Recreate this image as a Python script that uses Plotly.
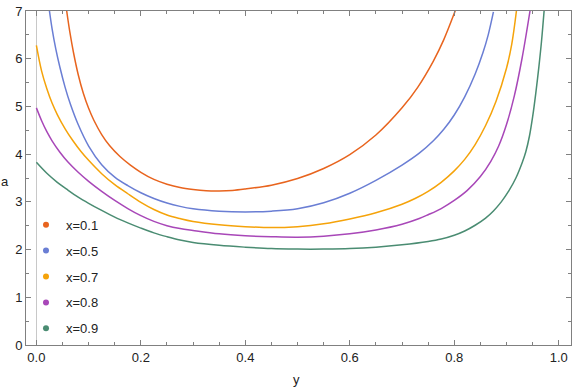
import plotly.graph_objects as go

# ---- data (horizontal axis "y", vertical axis "a") ----
labels = ["x=0.1", "x=0.5", "x=0.7", "x=0.8", "x=0.9"]
colors = ["#E8641E", "#6A7ED4", "#F5A30A", "#A847B8", "#4A8C72"]

y_01 = [0.058, 0.064, 0.071, 0.080, 0.090, 0.100, 0.110, 0.125, 0.140, 0.160,
        0.180, 0.200, 0.225, 0.250, 0.275, 0.300, 0.325, 0.350, 0.375, 0.400,
        0.450, 0.500, 0.550, 0.600, 0.650, 0.700, 0.730, 0.760, 0.780, 0.800,
        0.802]
a_01 = [7.00, 6.56, 6.13, 5.67, 5.27, 4.96, 4.71, 4.41, 4.18, 3.95,
        3.77, 3.62, 3.47, 3.37, 3.30, 3.26, 3.235, 3.23, 3.24, 3.27,
        3.35, 3.49, 3.70, 3.99, 4.40, 4.97, 5.40, 5.95, 6.40, 6.95,
        7.01]

y_05 = [0.025, 0.030, 0.037, 0.045, 0.055, 0.065, 0.080, 0.100, 0.125, 0.150,
        0.175, 0.200, 0.225, 0.250, 0.275, 0.300, 0.350, 0.400, 0.450, 0.500,
        0.550, 0.600, 0.650, 0.700, 0.733, 0.760, 0.780, 0.800, 0.820, 0.840,
        0.855, 0.865, 0.875]
a_05 = [7.00, 6.63, 6.21, 5.82, 5.40, 5.05, 4.62, 4.17, 3.78, 3.52,
        3.34, 3.19, 3.07, 2.975, 2.905, 2.855, 2.805, 2.79, 2.805, 2.855,
        2.98, 3.18, 3.45, 3.77, 4.02, 4.28, 4.52, 4.82, 5.20, 5.68,
        6.13, 6.50, 6.98]

y_07 = [0.000, 0.010, 0.020, 0.030, 0.040, 0.055, 0.070, 0.085, 0.100, 0.125,
        0.150, 0.175, 0.200, 0.225, 0.250, 0.275, 0.300, 0.350, 0.400, 0.450,
        0.500, 0.550, 0.600, 0.650, 0.700, 0.725, 0.750, 0.775, 0.800, 0.820,
        0.840, 0.860, 0.880, 0.900, 0.910, 0.919]
a_07 = [6.28, 5.74, 5.37, 5.07, 4.83, 4.53, 4.28, 4.06, 3.87, 3.59,
        3.36, 3.17, 2.99, 2.84, 2.725, 2.65, 2.59, 2.52, 2.48, 2.46,
        2.48, 2.54, 2.64, 2.77, 2.95, 3.07, 3.22, 3.41, 3.65, 3.89,
        4.20, 4.60, 5.11, 5.80, 6.30, 7.00]

y_08 = [0.000, 0.010, 0.020, 0.030, 0.045, 0.060, 0.080, 0.100, 0.125, 0.150,
        0.175, 0.200, 0.225, 0.250, 0.275, 0.300, 0.350, 0.400, 0.450, 0.500,
        0.550, 0.600, 0.650, 0.700, 0.733, 0.750, 0.775, 0.800, 0.825, 0.850,
        0.870, 0.885, 0.900, 0.915, 0.930, 0.945]
a_08 = [4.97, 4.70, 4.47, 4.28, 4.04, 3.84, 3.62, 3.43, 3.22, 3.03,
        2.86, 2.71, 2.59, 2.50, 2.44, 2.40, 2.33, 2.29, 2.27, 2.26,
        2.28, 2.33, 2.41, 2.53, 2.65, 2.73, 2.86, 3.03, 3.24, 3.53,
        3.85, 4.17, 4.62, 5.22, 6.02, 7.00]

y_09 = [0.000, 0.020, 0.040, 0.060, 0.080, 0.100, 0.125, 0.150, 0.175, 0.200,
        0.225, 0.250, 0.275, 0.300, 0.350, 0.400, 0.450, 0.500, 0.550, 0.600,
        0.650, 0.700, 0.750, 0.775, 0.800, 0.820, 0.840, 0.860, 0.875, 0.890,
        0.905, 0.918, 0.930, 0.937, 0.944, 0.950, 0.956, 0.962, 0.967, 0.972]
a_09 = [3.83, 3.60, 3.41, 3.25, 3.10, 2.97, 2.82, 2.68, 2.56, 2.45,
        2.35, 2.27, 2.20, 2.15, 2.09, 2.05, 2.02, 2.01, 2.01, 2.02,
        2.05, 2.10, 2.17, 2.22, 2.30, 2.39, 2.51, 2.66, 2.81, 3.00,
        3.24, 3.50, 3.82, 4.05, 4.38, 4.78, 5.27, 5.83, 6.36, 7.00]

series = [(y_01, a_01), (y_05, a_05), (y_07, a_07), (y_08, a_08), (y_09, a_09)]

x_ticks = [0.0, 0.2, 0.4, 0.6, 0.8, 1.0]
y_ticks = [0, 1, 2, 3, 4, 5, 6, 7]

FONT = "Liberation Sans, Arial, sans-serif"

fig = go.Figure()

for (ys, aa), col, lab in zip(series, colors, labels):
    fig.add_trace(go.Scatter(
        x=ys, y=aa, mode="lines",
        line=dict(color=col, width=1.5, shape="spline", smoothing=1.0),
        showlegend=False, hoverinfo="skip",
    ))
    # legend entry: just a dot, like the original
    fig.add_trace(go.Scatter(
        x=[None], y=[None], mode="markers", name=lab,
        marker=dict(color=col, size=6), legendgroup=lab,
    ))

tick_font = dict(family=FONT, size=13, color="#222")
axis_common = dict(
    showline=True, mirror="ticks", linecolor="#808080", linewidth=1,
    ticks="inside", ticklen=5, tickcolor="#808080",
    showgrid=False, tickfont=tick_font,
)

fig.update_layout(
    width=576, height=390,
    margin=dict(l=26, r=4, t=8, b=45),
    plot_bgcolor="white", paper_bgcolor="white",
    xaxis=dict(
        range=[-0.0199, 1.0235], tickvals=x_ticks,
        ticktext=[f"{v:.1f}" for v in x_ticks],
        zeroline=True, zerolinecolor="#c8c8c8", zerolinewidth=1,
        minor=dict(dtick=0.05, tick0=0, ticks="inside", ticklen=3, tickcolor="#808080"),
        **axis_common,
    ),
    yaxis=dict(
        range=[0, 7], tickvals=y_ticks, zeroline=False,
        minor=dict(dtick=0.5, tick0=0, ticks="inside", ticklen=3, tickcolor="#808080"),
        **axis_common,
    ),
    legend=dict(
        x=0.0, y=0.405, xanchor="left", yanchor="top",
        bgcolor="rgba(0,0,0,0)", tracegroupgap=6,
        font=dict(family=FONT, size=13, color="#222"),
        itemwidth=30,
    ),
    annotations=[
        dict(text="a", xref="paper", yref="paper", x=-0.038, y=0.49,
             xanchor="center", yanchor="middle", showarrow=False,
             font=dict(family=FONT, size=13, color="#222")),
        dict(text="y", xref="paper", yref="paper", x=0.496, y=-0.104,
             xanchor="center", yanchor="middle", showarrow=False,
             font=dict(family=FONT, size=13, color="#222")),
    ],
)

fig.write_html("out.html", config={"displayModeBar": False},
               post_script="document.body.style.margin='0px';")
